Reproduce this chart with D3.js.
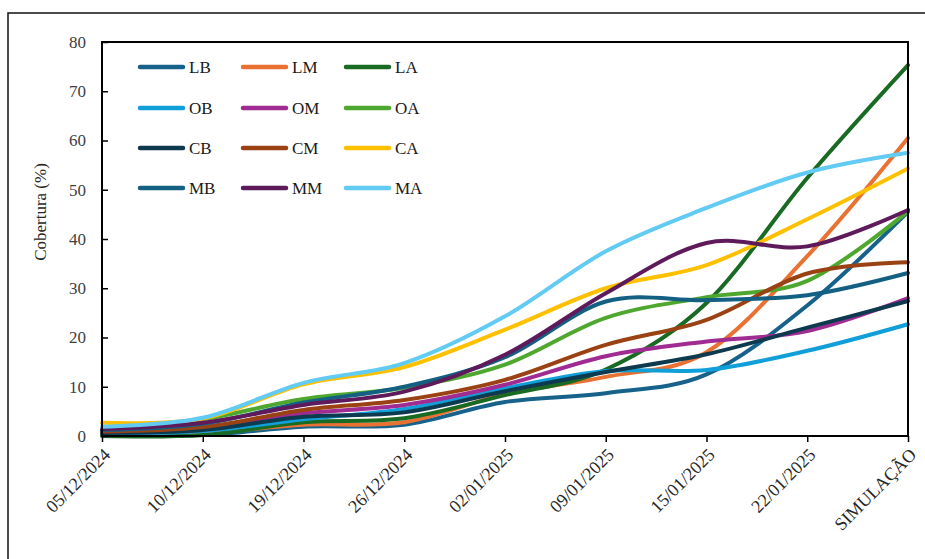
<!DOCTYPE html>
<html>
<head>
<meta charset="utf-8">
<script src="https://cdn.jsdelivr.net/npm/d3@7"></script>
<style>
  body { margin: 0; background: #fff; }
  text { font-family: "Liberation Serif", "Times New Roman", serif; }
</style>
</head>
<body>
<svg id="chart" width="925" height="559"></svg>
<script>
// categories (eixo x)
const datas = ["05/12/2024", "10/12/2024", "19/12/2024", "26/12/2024", "02/01/2025",
               "09/01/2025", "15/01/2025", "22/01/2025", "SIMULAÇÃO"];
const yTicks = [0, 10, 20, 30, 40, 50, 60, 70, 80];

// cobertura (%) por série
const LB = [0.3, 0.2, 1.9, 2.3, 6.9, 8.7, 12.5, 26.5, 45.5];
const LM = [0.4, 0.6, 2.3, 2.8, 8.5, 12.0, 17.0, 36.5, 60.5];
const LA = [0.0, 0.2, 2.8, 3.6, 8.3, 13.5, 27.0, 52.4, 75.3];
const OB = [0.5, 1.0, 3.4, 5.5, 9.7, 13.2, 13.4, 17.3, 22.7];
const OM = [0.8, 1.8, 4.6, 6.3, 10.4, 16.2, 19.2, 21.3, 28.0];
const OA = [1.0, 3.4, 7.5, 9.8, 14.5, 24.0, 28.2, 31.5, 45.6];
const CB = [0.6, 1.2, 3.9, 4.8, 9.1, 13.0, 16.6, 22.0, 27.4];
const CM = [0.9, 1.8, 5.3, 7.3, 11.4, 18.5, 23.6, 33.0, 35.3];
const CA = [2.7, 3.5, 10.5, 14.0, 21.6, 30.0, 34.7, 44.0, 54.3];
const MB = [1.2, 2.5, 6.8, 10.0, 16.0, 27.3, 27.6, 28.6, 33.1];
const MM = [1.4, 2.7, 6.3, 9.0, 16.5, 29.0, 39.2, 38.5, 45.9];
const MA = [1.9, 3.7, 10.8, 14.8, 24.3, 37.5, 46.3, 53.5, 57.5];

const nomes = ["LB", "LM", "LA", "OB", "OM", "OA", "CB", "CM", "CA", "MB", "MM", "MA"];
const cores = ["#16628a", "#e97132", "#196b24", "#109fd8", "#a02b93", "#4ea72e",
               "#0d3a4e", "#9a4213", "#ffc000", "#136083", "#5e1a5a", "#61cbf3"];
const valores = [LB, LM, LA, OB, OM, OA, CB, CM, CA, MB, MM, MA];

const series = nomes.map((n, i) => ({ nome: n, cor: cores[i], valores: valores[i] }));

const svg = d3.select('#chart');

// moldura externa
svg.append('rect')
  .attr('x', 8).attr('y', 13)
  .attr('width', 940).attr('height', 580)
  .attr('fill', 'none')
  .attr('stroke', '#111')
  .attr('stroke-width', 1.5);

const x = d3.scalePoint().domain(datas).range([102, 908]);
const y = d3.scaleLinear().domain([0, 80]).range([436, 42]);

// linhas
const linha = d3.line()
  .x((d, i) => x(datas[i]))
  .y(d => y(d))
  .curve(d3.curveCardinal.tension(0));

svg.append('g').selectAll('path').data(series)
  .enter().append('path')
    .attr('d', d => linha(d.valores))
    .attr('fill', 'none')
    .attr('stroke', d => d.cor)
    .attr('stroke-width', 4)
    .attr('stroke-linecap', 'round');

// eixo y
const yAxis = svg.append('g')
  .attr('transform', 'translate(102,0)')
  .call(d3.axisLeft(y).tickValues(yTicks).tickSizeInner(-6).tickSizeOuter(0).tickPadding(16));
yAxis.select('.domain').remove();
yAxis.selectAll('line').attr('stroke', '#000').attr('stroke-width', 1.5);
yAxis.selectAll('text').style('font-size', '17px').attr('fill', '#404040')
  .style('font-family', '"Liberation Serif", serif');

// eixo x
const xAxis = svg.append('g')
  .attr('transform', 'translate(0,436)')
  .call(d3.axisBottom(x).tickSizeInner(6).tickSizeOuter(0));
xAxis.select('.domain').remove();
xAxis.selectAll('line').attr('stroke', '#000').attr('stroke-width', 1.5);
xAxis.selectAll('text')
  .style('font-size', '18px')
  .style('font-family', '"Liberation Serif", serif')
  .attr('fill', '#262626')
  .attr('text-anchor', 'end')
  .attr('dy', '0.35em')
  .attr('transform', 'translate(-2,9) rotate(-45)');

// moldura do gráfico
svg.append('rect')
  .attr('x', 102).attr('y', 42)
  .attr('width', 806).attr('height', 394)
  .attr('fill', 'none')
  .attr('stroke', '#000')
  .attr('stroke-width', 2);

// rótulo do eixo y
svg.append('text')
  .attr('transform', 'translate(46,212) rotate(-90)')
  .attr('text-anchor', 'middle')
  .style('font-size', '17px')
  .attr('fill', '#262626')
  .text('Cobertura (%)');

// legenda
const legX = [140, 243, 346];
const legY = [67, 108, 148, 188];
const leg = svg.append('g').selectAll('g').data(series)
  .enter().append('g')
    .attr('transform', (d, i) => `translate(${legX[i % 3]},${legY[Math.floor(i / 3)]})`);
leg.append('line')
  .attr('x1', 0).attr('x2', 43)
  .attr('stroke', d => d.cor)
  .attr('stroke-width', 4.5)
  .attr('stroke-linecap', 'round');
leg.append('text')
  .attr('x', 49).attr('dy', '0.35em')
  .style('font-size', '17px')
  .attr('fill', '#1a1a1a')
  .text(d => d.nome);
</script>
</body>
</html>
